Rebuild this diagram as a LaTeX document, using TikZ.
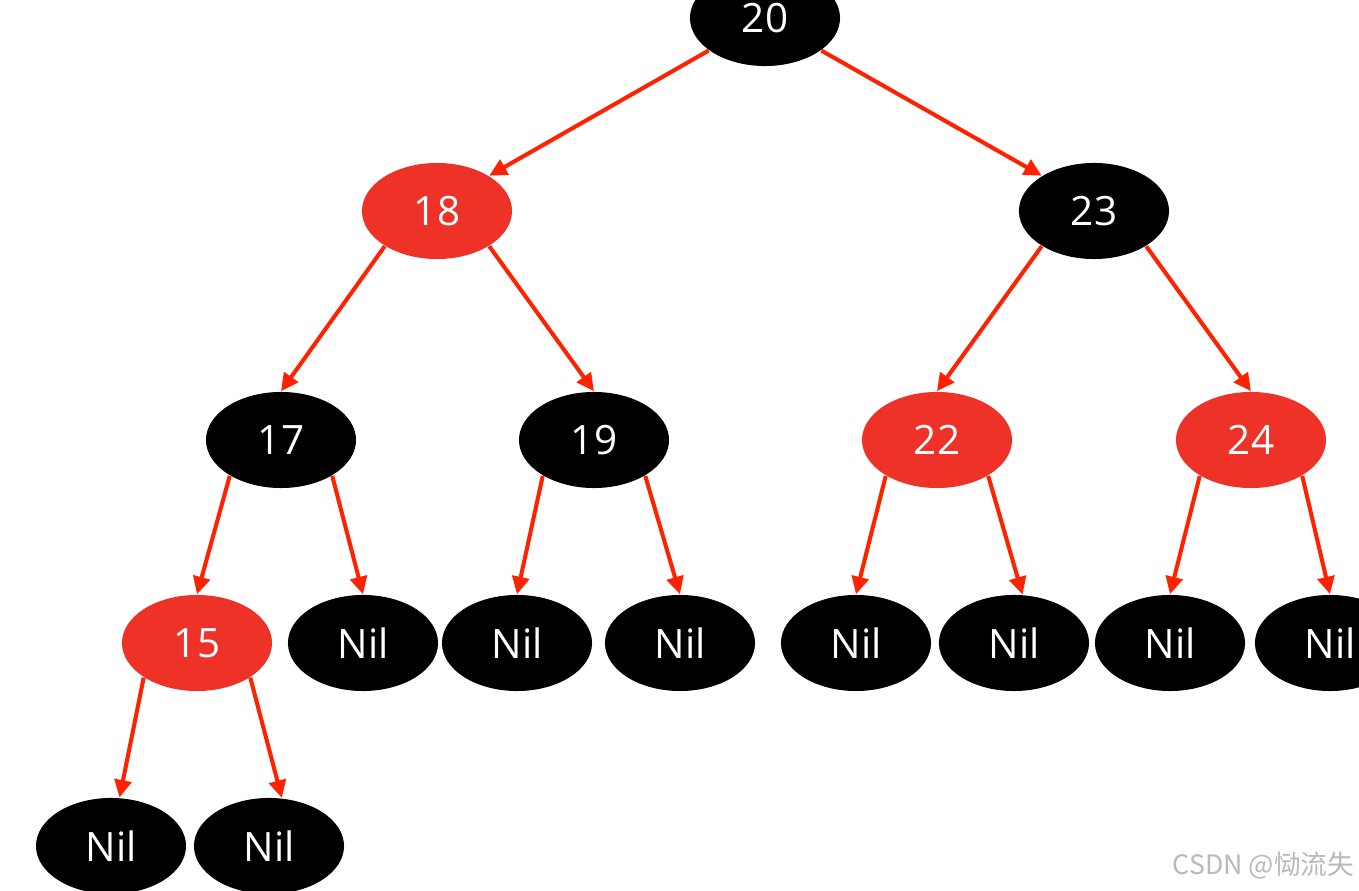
\documentclass[tikz,border=0pt]{standalone}
\usepackage{fontspec}
\setmainfont{Open Sans}
\newfontfamily\cjkfont{Noto Sans CJK SC}
\usetikzlibrary{shapes.geometric,arrows.meta}
\definecolor{nodered}{RGB}{238,50,40}
\definecolor{edgered}{RGB}{255,34,0}
\definecolor{wmgray}{RGB}{185,185,185}
\tikzset{
  rbnode/.style={ellipse,minimum width=1.5cm,minimum height=0.96cm,inner sep=0pt,text=white,font=\fontsize{11.5}{13}\selectfont},
  blk/.style={rbnode,fill=black},
  rd/.style={rbnode,fill=nodered},
  edge/.style={draw=edgered,line width=1.15pt,-{Triangle[length=5pt,width=4.8pt]}}
}
\begin{document}
\begin{tikzpicture}[x=0.01cm,y=-0.01cm]
\useasboundingbox (0,0) rectangle (1359,891);
\clip (0,0) rectangle (1359,891);
\fill[white] (0,0) rectangle (1359,891);
% nodes
\node[blk] (n20) at (765,18) {20};
\node[rd]  (n18) at (437,211) {18};
\node[blk] (n23) at (1094,211) {23};
\node[blk] (n17) at (281,440) {17};
\node[blk] (n19) at (594,440) {19};
\node[rd]  (n22) at (937,440) {22};
\node[rd]  (n24) at (1251,440) {24};
\node[rd]  (n15) at (197,643) {15};
\node[blk] (nil1) at (363,643) {Nil};
\node[blk] (nil2) at (517,643) {Nil};
\node[blk] (nil3) at (680,643) {Nil};
\node[blk] (nil4) at (856,643) {Nil};
\node[blk] (nil5) at (1014,643) {Nil};
\node[blk] (nil6) at (1170,643) {Nil};
\node[blk] (nil7) at (1330,643) {Nil};
\node[blk] (nil8) at (111,846) {Nil};
\node[blk] (nil9) at (269,846) {Nil};
% edges
\draw[edge] (n20.-150) -- (n18.34);
\draw[edge] (n20.-30) -- (n23.146);
\draw[edge] (n18.-146) -- (n17.north);
\draw[edge] (n18.-34) -- (n19.north);
\draw[edge] (n23.-146) -- (n22.north);
\draw[edge] (n23.-34) -- (n24.north);
\draw[edge] (n17.-145) -- (n15.north);
\draw[edge] (n17.-35) -- (nil1.north);
\draw[edge] (n19.-145) -- (nil2.north);
\draw[edge] (n19.-35) -- (nil3.north);
\draw[edge] (n22.-145) -- (nil4.north);
\draw[edge] (n22.-35) -- (nil5.80);
\draw[edge] (n24.-145) -- (nil6.north);
\draw[edge] (n24.-35) -- (nil7.north);
\draw[edge] (n15.-147) -- (nil8.80);
\draw[edge] (n15.-33) -- (nil9.75);
% watermark
\node[text=wmgray,font=\cjkfont\fontsize{7.6}{9}\selectfont,anchor=east,inner sep=0pt] (wm) at (1355,866) {CSDN @恸流失};
\end{tikzpicture}
\end{document}
